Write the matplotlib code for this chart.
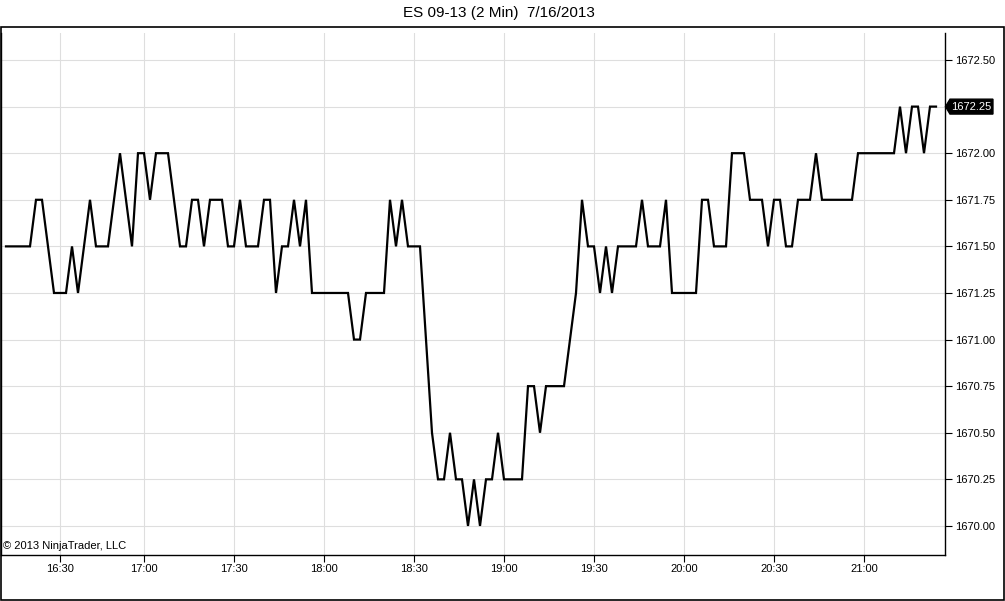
import matplotlib
matplotlib.use("Agg")
import matplotlib.pyplot as plt
from matplotlib.patches import Rectangle, Polygon
from matplotlib.transforms import blended_transform_factory

# 2-minute closes, ES 09-13, 16:12 .. 21:22 (one bar per index)
closes = [
    1671.50, 1671.50, 1671.50, 1671.50, 1671.50, 1671.75, 1671.75, 1671.50,
    1671.25, 1671.25, 1671.25, 1671.50, 1671.25, 1671.50, 1671.75, 1671.50,
    1671.50, 1671.50, 1671.75, 1672.00, 1671.75, 1671.50, 1672.00, 1672.00,
    1671.75, 1672.00, 1672.00, 1672.00, 1671.75, 1671.50, 1671.50, 1671.75,
    1671.75, 1671.50, 1671.75, 1671.75, 1671.75, 1671.50, 1671.50, 1671.75,
    1671.50, 1671.50, 1671.50, 1671.75, 1671.75, 1671.25, 1671.50, 1671.50,
    1671.75, 1671.50, 1671.75, 1671.25, 1671.25, 1671.25, 1671.25, 1671.25,
    1671.25, 1671.25, 1671.00, 1671.00, 1671.25, 1671.25, 1671.25, 1671.25,
    1671.75, 1671.50, 1671.75, 1671.50, 1671.50, 1671.50, 1671.00, 1670.50,
    1670.25, 1670.25, 1670.50, 1670.25, 1670.25, 1670.00, 1670.25, 1670.00,
    1670.25, 1670.25, 1670.50, 1670.25, 1670.25, 1670.25, 1670.25, 1670.75,
    1670.75, 1670.50, 1670.75, 1670.75, 1670.75, 1670.75, 1671.00, 1671.25,
    1671.75, 1671.50, 1671.50, 1671.25, 1671.50, 1671.25, 1671.50, 1671.50,
    1671.50, 1671.50, 1671.75, 1671.50, 1671.50, 1671.50, 1671.75, 1671.25,
    1671.25, 1671.25, 1671.25, 1671.25, 1671.75, 1671.75, 1671.50, 1671.50,
    1671.50, 1672.00, 1672.00, 1672.00, 1671.75, 1671.75, 1671.75, 1671.50,
    1671.75, 1671.75, 1671.50, 1671.50, 1671.75, 1671.75, 1671.75, 1672.00,
    1671.75, 1671.75, 1671.75, 1671.75, 1671.75, 1671.75, 1672.00, 1672.00,
    1672.00, 1672.00, 1672.00, 1672.00, 1672.00, 1672.25, 1672.00, 1672.25,
    1672.25, 1672.00, 1672.25, 1672.25,
]

# bar index of each time label
tick_bars = [9, 23, 38, 53, 68, 83, 98, 113, 128, 143]
tick_labels = ["16:30", "17:00", "17:30", "18:00", "18:30",
               "19:00", "19:30", "20:00", "20:30", "21:00"]
price_ticks = [1670.00, 1670.25, 1670.50, 1670.75, 1671.00,
               1671.25, 1671.50, 1671.75, 1672.00, 1672.25, 1672.50]

title = "ES 09-13 (2 Min)  7/16/2013"
copyright_text = "\u00a9 2013 NinjaTrader, LLC"

plt.rcParams['font.family'] = ['Liberation Sans', 'DejaVu Sans']

W, H = 1005, 601
fig = plt.figure(figsize=(W / 100, H / 100), dpi=100)
fig.patch.set_facecolor("white")

# plot area in pixels: x 1..945, y 33..555
left, right, top, bottom = 1, 945, 33, 555
ax = fig.add_axes([left / W, 1 - bottom / H, (right - left) / W, (bottom - top) / H])

bars = list(range(len(closes)))
ax.plot(bars, closes, color="black", lw=1.6, solid_joinstyle="miter")

ax.set_xlim(-0.833, 156.5)
ax.set_ylim(1669.844, 1672.645)

last = closes[-1]

ax.set_xticks(tick_bars)
ax.set_xticklabels(tick_labels)
ax.set_yticks(price_ticks)
# the last-price marker covers its own level label
ax.set_yticklabels(["" if p == last else f"{p:.2f}" for p in price_ticks])
ax.yaxis.tick_right()
ax.tick_params(axis="both", direction="out", length=5, width=0.8,
               labelsize=8, colors="black", pad=2)
ax.tick_params(axis="x", length=5, pad=1.5)
ax.grid(True, color="#dedede", lw=0.8)
ax.set_axisbelow(True)

for side in ("left", "right", "bottom"):
    ax.spines[side].set_color("black")
    ax.spines[side].set_linewidth(1.0)
ax.spines["top"].set_visible(False)

# last price marker
tr = blended_transform_factory(ax.transAxes, ax.transData)
hh = 0.040
x_tip, x_body, x_end = 1.0005, 1.0053, 1.0508
marker = Polygon([[x_tip, last], [x_body, last + hh], [x_end, last + hh],
                  [x_end, last - hh], [x_body, last - hh]],
                 closed=True, transform=tr, facecolor="black",
                 edgecolor="black", clip_on=False)
ax.add_patch(marker)
ax.text((x_body + x_end) / 2, last, f"{last:.2f}", transform=tr,
        color="white", fontsize=8, ha="center", va="center")

ax.text(2 / (right - left), 0.008, copyright_text, transform=ax.transAxes,
        fontsize=8, ha="left", va="bottom", color="black")

fig.text(499 / W, 1 - 13 / H, title, fontsize=11, ha="center", va="center")

# outer frame
fig.add_artist(Rectangle((0.5 / W, 1 - 599.5 / H), 1003.5 / W, 572.5 / H,
                         transform=fig.transFigure, fill=False,
                         edgecolor="black", lw=1.2))

fig.savefig("out.png", dpi=100)
